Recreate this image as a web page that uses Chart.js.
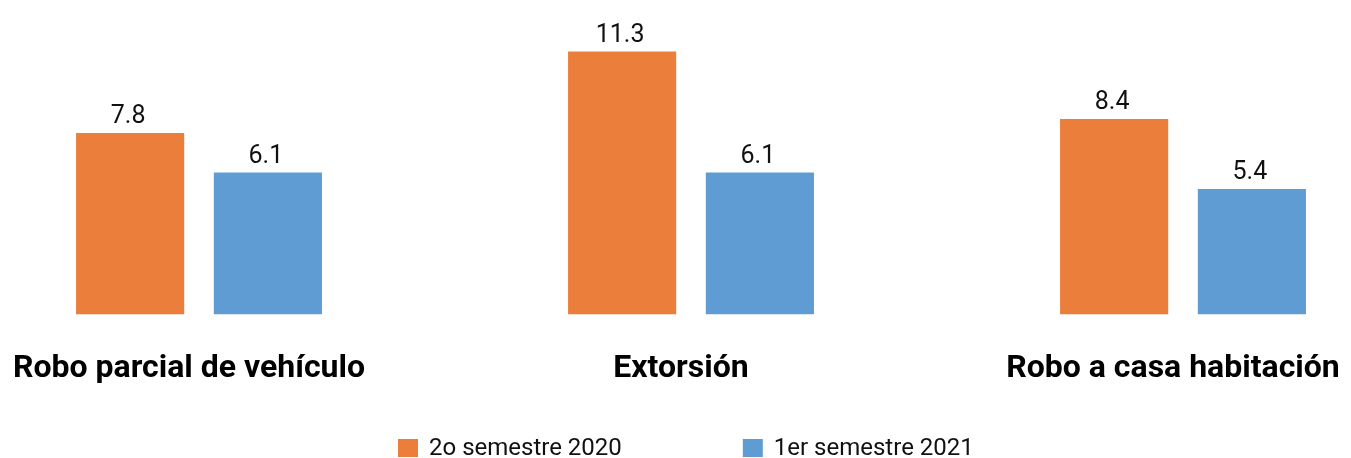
<!DOCTYPE html>
<html>
<head>
<meta charset="utf-8">
<script src="https://cdn.jsdelivr.net/npm/chart.js@4/dist/chart.umd.min.js"></script>
<style>
    html, body { margin: 0; padding: 0; background: #fff; overflow: hidden; }
    body { width: 1351px; height: 458px; position: relative; }
    #wrap { position: absolute; left: -47px; top: 0; width: 1476px; height: 458px; }
</style>
</head>
<body>
<div id="wrap"><canvas id="crimeChart"></canvas></div>
<script>
// Chart data
const categories = ['Robo parcial de vehículo', 'Extorsión', 'Robo a casa habitación'];
const seriesNames = ['2o semestre 2020', '1er semestre 2021'];
const values2020 = [7.8, 11.3, 8.4];
const values2021 = [6.1, 6.1, 5.4];
const seriesColors = ['#EB7E3B', '#5E9CD3'];

// Value labels above each bar
const valueLabels = {
    id: 'valueLabels',
    afterDatasetsDraw(chart) {
        const ctx = chart.ctx;
        ctx.save();
        ctx.font = '25px Roboto';
        ctx.fillStyle = '#111';
        ctx.textAlign = 'center';
        ctx.textBaseline = 'alphabetic';
        chart.data.datasets.forEach((ds, i) => {
            chart.getDatasetMeta(i).data.forEach((bar, j) => {
                ctx.fillText(ds.data[j].toFixed(1), bar.x - 2, bar.y - 10);
            });
        });
        ctx.restore();
    }
};

// Legend along the bottom
const bottomLegend = {
    id: 'bottomLegend',
    afterDraw(chart) {
        const ctx = chart.ctx;
        const box = 20, textGap = 11, itemGap = 121;
        const y = 448;
        ctx.save();
        ctx.font = '24px Roboto';
        ctx.textBaseline = 'middle';
        const widths = chart.data.datasets.map(ds => box + textGap + ctx.measureText(ds.label).width);
        let x = 47 + 398;
        chart.data.datasets.forEach((ds, i) => {
            ctx.fillStyle = ds.backgroundColor;
            ctx.fillRect(x, y - 9, box, 18);
            ctx.fillStyle = '#111';
            ctx.fillText(ds.label, x + box + textGap, y + 1);
            x += widths[i] + itemGap;
        });
        ctx.restore();
    }
};

new Chart(document.getElementById('crimeChart'), {
    type: 'bar',
    data: {
        labels: categories,
        datasets: [
            { label: seriesNames[0], data: values2020, backgroundColor: seriesColors[0] },
            { label: seriesNames[1], data: values2021, backgroundColor: seriesColors[1] }
        ]
    },
    options: {
        responsive: true,
        maintainAspectRatio: false,
        animation: false,
        datasets: {
            bar: { barPercentage: 0.785, categoryPercentage: 0.56 }
        },
        layout: { padding: { top: 12, bottom: 35, left: 0, right: 0 } },
        plugins: {
            legend: { display: false },
            tooltip: { enabled: false }
        },
        scales: {
            x: {
                grid: { display: false, drawTicks: false },
                border: { display: false },
                ticks: {
                    color: '#000',
                    font: { family: 'Roboto', size: 32, weight: 'bold' },
                    padding: 35,
                    maxRotation: 0,
                    autoSkip: false,
                    labelOffset: -10
                }
            },
            y: {
                display: false,
                min: 0,
                max: 13
            }
        }
    },
    plugins: [valueLabels, bottomLegend]
});
</script>
</body>
</html>
